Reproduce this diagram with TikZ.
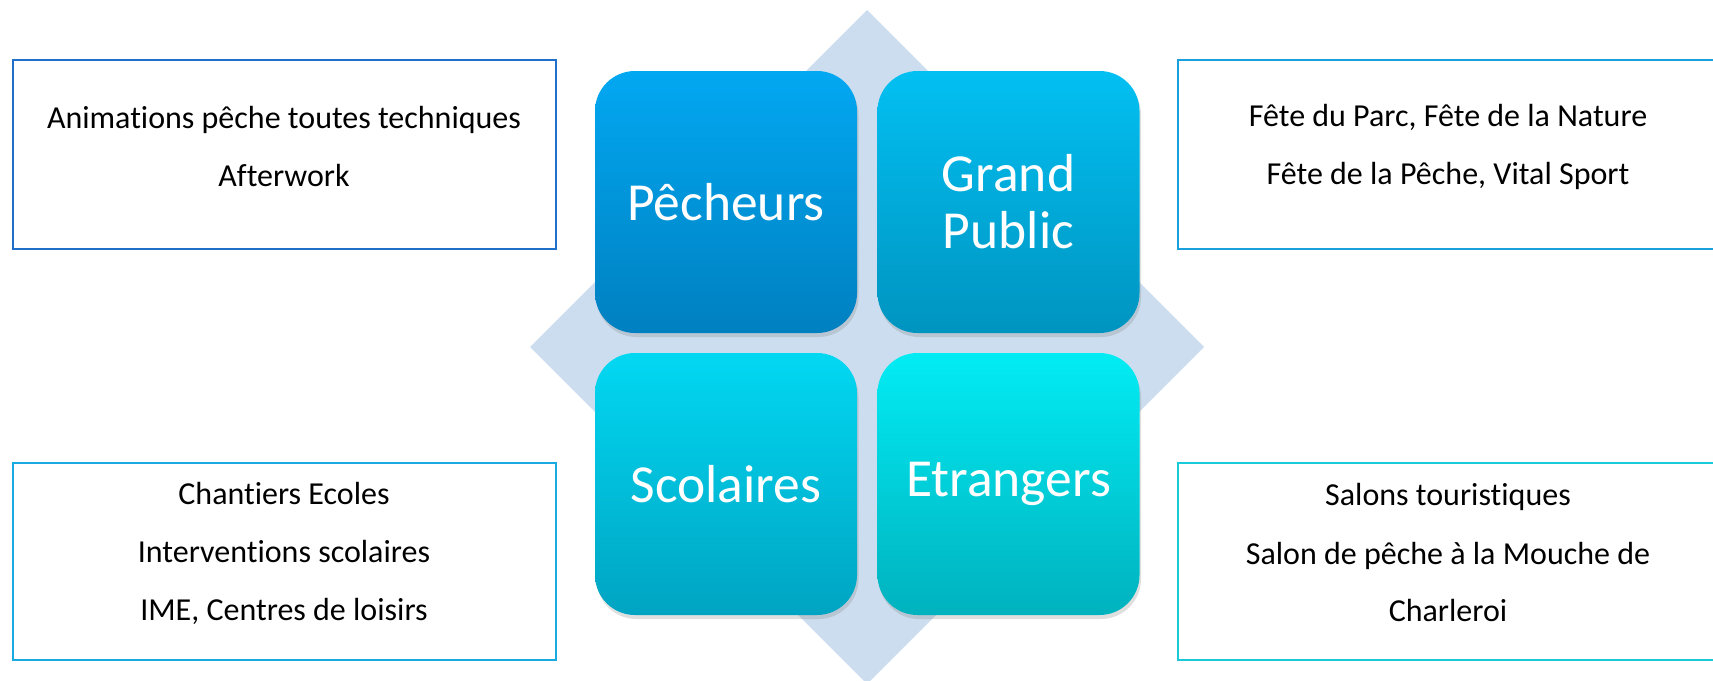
\documentclass[tikz,border=0pt]{standalone}
\usepackage{fontspec}
\setmainfont[Ligatures={NoCommon}]{Carlito}
\usetikzlibrary{shadows}
\definecolor{diam}{HTML}{CBDDEE}
\definecolor{pTop}{HTML}{02A8F2}\definecolor{pBot}{HTML}{0080C0}
\definecolor{gTop}{HTML}{02C0F2}\definecolor{gBot}{HTML}{0094C0}
\definecolor{sTop}{HTML}{02D8F2}\definecolor{sBot}{HTML}{00A4C2}
\definecolor{eTop}{HTML}{02ECF4}\definecolor{eBot}{HTML}{00B2BE}
\definecolor{bLT}{HTML}{2070CA}\definecolor{bRT}{HTML}{1AA0DC}
\definecolor{bLB}{HTML}{1AAAE2}\definecolor{bRB}{HTML}{1ACAD8}
\tikzset{
  tile/.style={rectangle, rounded corners=40pt, minimum width=262pt, minimum height=262pt,
    inner sep=0pt, text=white, align=center, font=\fontsize{53.5}{57}\selectfont,
    drop shadow={opacity=0.25, shadow xshift=1.5pt, shadow yshift=-4pt}},
  infobox/.style={rectangle, draw, line width=1.8pt, fill=white, inner sep=0pt},
  infotext/.style={align=center, font=\fontsize{32}{58}\selectfont, text=black, inner sep=0pt}
}
\begin{document}
\begin{tikzpicture}[x=1pt,y=-1pt]
\useasboundingbox (0,0) rectangle (1713,680);
% diamond background
\path[fill=diam] (867,10) -- (1204,347) -- (867,684) -- (530,347) -- cycle;
% tiles
\node[tile, top color=pTop, bottom color=pBot] (pech) at (726,202) {Pêcheurs};
\node[tile, top color=gTop, bottom color=gBot] (gp) at (1008.5,202) {Grand\\Public};
\node[tile, top color=sTop, bottom color=sBot] (scol) at (726,484) {Scolaires};
\node[tile, top color=eTop, bottom color=eBot] (etr) at (1008.5,484) {Etrangers};
% info boxes
\node[infobox, draw=bLT, minimum width=543pt, minimum height=189pt] (lt) at (284.5,154.5) {};
\node[infobox, draw=bRT, minimum width=540pt, minimum height=189pt] (rt) at (1448,154.5) {};
\node[infobox, draw=bLB, minimum width=543pt, minimum height=197pt] (lb) at (284.5,561.5) {};
\node[infobox, draw=bRB, minimum width=540pt, minimum height=197pt] (rb) at (1448,561.5) {};
% texts
\node[infotext] (ltt) at (284,146.5) {Animations pêche toutes techniques\\Afterwork};
\node[infotext] (rtt) at (1448,146.5) {Fête du Parc, Fête de la Nature\\Fête de la Pêche, Vital Sport};
\node[infotext] (lbt) at (284,553) {Chantiers Ecoles\\Interventions scolaires\\IME, Centres de loisirs};
\node[infotext] (rbt) at (1448,553) {Salons touristiques\\Salon de pêche à la Mouche de\\Charleroi};
\end{tikzpicture}
\end{document}
